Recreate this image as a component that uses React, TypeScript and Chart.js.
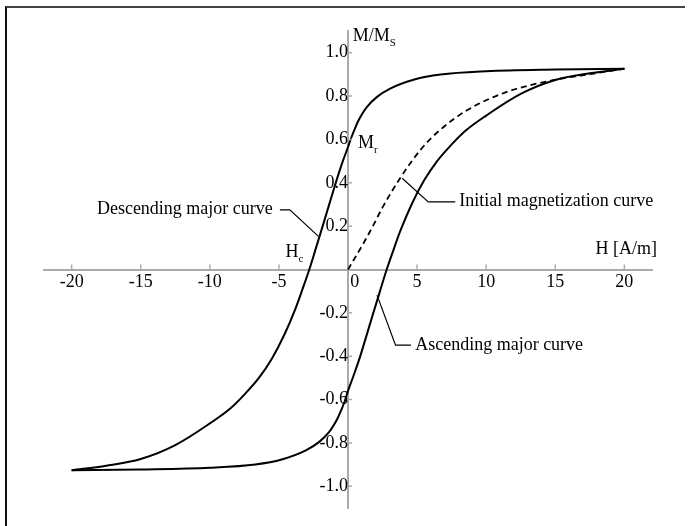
import React, { useEffect, useRef } from "react";
import { Chart, registerables } from "chart.js";
Chart.register(...registerables);

// ---- data ----
const xTickValues = [-20, -15, -10, -5, 0, 5, 10, 15, 20];
const yTickValues = [-1.0, -0.8, -0.6, -0.4, -0.2, 0.2, 0.4, 0.6, 0.8, 1.0];

// Descending major curve (upper-left branch)
const descH = [-20, -17.5, -15, -12.5, -10, -8.5, -7.4, -6.45, -5.5, -4.6, -3.8, -3.3, -2.8, -2.3, -1.8, -1.3, -0.87, -0.4, 0, 0.25, 0.5, 0.75, 1.0, 1.36, 2.08, 3.05, 4.8, 6.7, 10, 15, 20];
const descM = [-0.926, -0.905, -0.874, -0.81, -0.71, -0.64, -0.57, -0.5, -0.41, -0.3, -0.18, -0.092, 0, 0.103, 0.207, 0.313, 0.403, 0.495, 0.565, 0.61, 0.65, 0.686, 0.715, 0.749, 0.795, 0.834, 0.876, 0.899, 0.914, 0.922, 0.926];

// Ascending major curve (lower-right branch)
const ascH = [-20, -15, -10, -6.7, -4.8, -3.05, -2.08, -1.36, -1.0, -0.75, -0.5, -0.25, 0, 0.4, 0.87, 1.3, 1.8, 2.3, 2.8, 3.3, 3.8, 4.6, 5.5, 6.45, 7.4, 8.5, 10, 12.5, 15, 17.5, 20];
const ascM = [-0.926, -0.922, -0.914, -0.899, -0.876, -0.834, -0.795, -0.749, -0.715, -0.686, -0.65, -0.61, -0.56, -0.49, -0.403, -0.313, -0.207, -0.103, 0, 0.092, 0.18, 0.3, 0.41, 0.5, 0.57, 0.64, 0.71, 0.81, 0.874, 0.905, 0.926];

// Initial magnetization curve (dashed)
const initH = [0, 1.2, 1.84, 2.48, 3.76, 5.35, 6.6, 8.5, 11.4, 14.6, 17.8, 20];
const initM = [0, 0.13, 0.205, 0.284, 0.42, 0.56, 0.64, 0.73, 0.817, 0.87, 0.904, 0.926];

// ---- annotation texts (anchored in data units) ----
const FONT = '"Liberation Serif", "Times New Roman", serif';
const labels = [
  { text: "Descending major curve", h: -5.44, m: 0.258, align: "right" },
  { text: "Initial magnetization curve", h: 8.06, m: 0.292, align: "left" },
  { text: "Ascending major curve", h: 4.86, m: -0.372, align: "left" },
  { text: "H [A/m]", h: 17.92, m: 0.073, align: "left" },
];
const subLabels = [
  { main: "M/M", sub: "S", h: 0.34, m: 1.052 },
  { main: "M", sub: "r", h: 0.73, m: 0.562 },
  { main: "H", sub: "c", h: -4.52, m: 0.058 },
];
const leaders = [
  [[-4.93, 0.275], [-4.21, 0.275], [-2.14, 0.153]],
  [[3.92, 0.421], [5.81, 0.312], [7.76, 0.312]],
  [[2.1, -0.118], [3.44, -0.349], [4.56, -0.349]],
];

const pts = (hs: number[], ms: number[]) => hs.map((h, i) => ({ x: h, y: ms[i] }));

const decorPlugin = {
  id: "decor",
  afterDraw(chart: any) {
    const ctx = chart.ctx;
    const xs = chart.scales.x;
    const ys = chart.scales.y;
    const x0 = xs.getPixelForValue(0);
    const y0 = ys.getPixelForValue(0);
    ctx.save();
    // tick marks
    ctx.strokeStyle = "#aaaaaa";
    ctx.lineWidth = 1.5;
    ctx.beginPath();
    xTickValues.forEach((v) => {
      if (v === 0) return;
      const px = xs.getPixelForValue(v);
      ctx.moveTo(px, y0);
      ctx.lineTo(px, y0 - 5);
    });
    yTickValues.forEach((v) => {
      const py = ys.getPixelForValue(v);
      ctx.moveTo(x0 - 1, py);
      ctx.lineTo(x0 + 4, py);
    });
    ctx.stroke();
    // leader lines
    ctx.strokeStyle = "#000";
    ctx.lineWidth = 1.2;
    leaders.forEach((ln) => {
      ctx.beginPath();
      ln.forEach(([h, m], i) => {
        const px = xs.getPixelForValue(h);
        const py = ys.getPixelForValue(m);
        if (i === 0) ctx.moveTo(px, py);
        else ctx.lineTo(px, py);
      });
      ctx.stroke();
    });
    // texts
    ctx.fillStyle = "#000";
    ctx.textBaseline = "alphabetic";
    ctx.font = `18px ${FONT}`;
    labels.forEach((l) => {
      ctx.textAlign = l.align;
      ctx.fillText(l.text, xs.getPixelForValue(l.h), ys.getPixelForValue(l.m));
    });
    ctx.textAlign = "left";
    subLabels.forEach((l) => {
      const px = xs.getPixelForValue(l.h);
      const py = ys.getPixelForValue(l.m);
      ctx.font = `18px ${FONT}`;
      ctx.fillText(l.main, px, py);
      const w = ctx.measureText(l.main).width;
      ctx.font = `11px ${FONT}`;
      ctx.fillText(l.sub, px + w, py + 5);
    });
    ctx.restore();
  },
};

export default function App() {
  const ref = useRef<HTMLCanvasElement | null>(null);
  useEffect(() => {
    document.body.style.margin = "0";
    const canvas = ref.current;
    if (!canvas) return;
    const common = {
      borderColor: "#000",
      pointRadius: 0,
      cubicInterpolationMode: "monotone",
      fill: false,
    };
    const chart = new Chart(canvas, {
      type: "line",
      data: {
        datasets: [
          { ...common, label: "Descending major curve", data: pts(descH, descM), borderWidth: 2 },
          { ...common, label: "Ascending major curve", data: pts(ascH, ascM), borderWidth: 2 },
          {
            ...common,
            label: "Initial magnetization curve",
            data: pts(initH, initM),
            borderWidth: 1.8,
            borderDash: [6, 4],
          },
        ],
      },
      options: {
        animation: false,
        responsive: false,
        maintainAspectRatio: false,
        layout: { padding: { left: 44, right: 37, top: 31, bottom: 18 } },
        plugins: { legend: { display: false }, tooltip: { enabled: false } },
        scales: {
          x: {
            type: "linear",
            min: -22,
            max: 22,
            position: { y: 0 },
            afterFit(s: any) {
              s.height = 0;
            },
            afterBuildTicks(s: any) {
              s.ticks = xTickValues.map((v) => ({ value: v }));
            },
            grid: { display: true, drawOnChartArea: false, drawTicks: false },
            border: { display: true, color: "#aaaaaa", width: 2 },
            ticks: {
              autoSkip: false,
              maxRotation: 0,
              minRotation: 0,
              padding: 2,
              color: "#000",
              font: { family: FONT, size: 18 },
              callback: (v: any) => (Number(v) === 0 ? "   0" : String(v)),
            },
          },
          y: {
            type: "linear",
            min: -1.1,
            max: 1.1,
            position: { x: 0 },
            afterFit(s: any) {
              s.width = 0;
            },
            afterBuildTicks(s: any) {
              s.ticks = yTickValues.map((v) => ({ value: v }));
            },
            grid: { display: true, drawOnChartArea: false, drawTicks: false },
            border: { display: true, color: "#aaaaaa", width: 2 },
            ticks: {
              autoSkip: false,
              padding: 6,
              color: "#000",
              font: { family: FONT, size: 18 },
              callback: (v: any) => Number(v).toFixed(1),
            },
          },
        },
      },
      plugins: [decorPlugin],
    });
    return () => chart.destroy();
  }, []);
  return (
    <div style={{ position: "relative", width: 689, height: 526, background: "#fff" }}>
      <canvas ref={ref} width={689} height={526} style={{ display: "block" }} />
      <div
        style={{
          position: "absolute",
          left: 5,
          top: 6,
          width: 678,
          height: 520,
          borderTop: "2px solid #444",
          borderLeft: "2px solid #111",
          pointerEvents: "none",
        }}
      />
    </div>
  );
}
